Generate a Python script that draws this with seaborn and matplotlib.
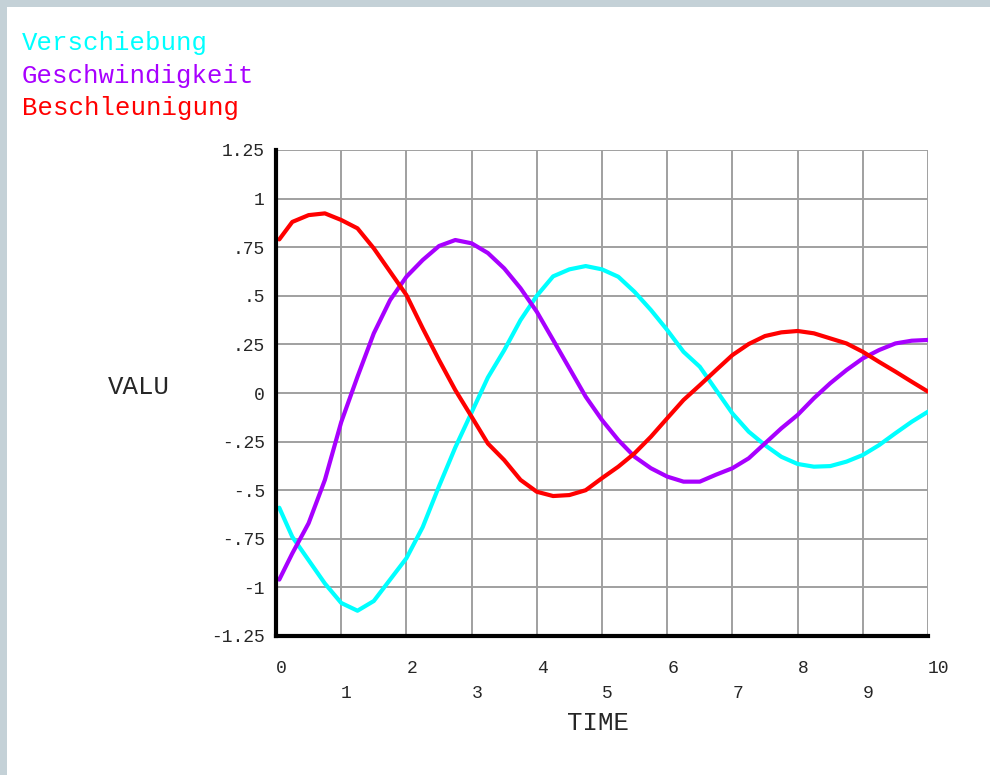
import pandas as pd
import numpy as np
import matplotlib
matplotlib.use("Agg")
import matplotlib.pyplot as plt
import seaborn as sns

# values (time step 0.25)
time = [0.05, 0.25, 0.5, 0.75, 1.0, 1.25, 1.5, 1.75, 2.0, 2.25, 2.5, 2.75, 3.0, 3.25,
        3.5, 3.75, 4.0, 4.25, 4.5, 4.75, 5.0, 5.25, 5.5, 5.75, 6.0, 6.25, 6.5, 6.75,
        7.0, 7.25, 7.5, 7.75, 8.0, 8.25, 8.5, 8.75, 9.0, 9.25, 9.5, 9.75, 10.0]

verschiebung = [-0.59, -0.74, -0.86, -0.98, -1.08, -1.12, -1.07, -0.96, -0.85, -0.69,
                -0.48, -0.28, -0.10, 0.08, 0.22, 0.375, 0.50, 0.60, 0.636, 0.653,
                0.636, 0.598, 0.52, 0.427, 0.324, 0.212, 0.135, 0.015, -0.105, -0.199,
                -0.268, -0.328, -0.365, -0.379, -0.376, -0.353, -0.319, -0.268, -0.207,
                -0.148, -0.096]

geschwindigkeit = [-0.96, -0.825, -0.67, -0.447, -0.15, 0.084, 0.307, 0.478, 0.598,
                   0.684, 0.756, 0.787, 0.77, 0.72, 0.641, 0.539, 0.418, 0.273, 0.127,
                   -0.019, -0.139, -0.242, -0.328, -0.387, -0.43, -0.456, -0.456,
                   -0.42, -0.387, -0.336, -0.259, -0.182, -0.113, -0.027, 0.05, 0.118,
                   0.178, 0.221, 0.255, 0.269, 0.273]

beschleunigung = [0.79, 0.88, 0.915, 0.924, 0.89, 0.847, 0.744, 0.624, 0.504, 0.333,
                  0.17, 0.015, -0.122, -0.26, -0.345, -0.447, -0.508, -0.53, -0.525,
                  -0.50, -0.438, -0.379, -0.31, -0.225, -0.13, -0.036, 0.04, 0.118,
                  0.195, 0.252, 0.293, 0.312, 0.319, 0.307, 0.281, 0.255, 0.212, 0.16,
                  0.11, 0.058, 0.007]

names = ["Verschiebung", "Geschwindigkeit", "Beschleunigung"]
colors = ["#00ffff", "#a800ff", "#ff0000"]

y_ticks = [1.25, 1, 0.75, 0.5, 0.25, 0, -0.25, -0.5, -0.75, -1, -1.25]
y_labels = ["1.25", "1", ".75", ".5", ".25", "0", "-.25", "-.5", "-.75", "-1", "-1.25"]
x_even = [0, 2, 4, 6, 8, 10]
x_odd = [1, 3, 5, 7, 9]

df = pd.DataFrame({"TIME": time * 3,
                   "VALU": verschiebung + geschwindigkeit + beschleunigung,
                   "series": [n for n in names for _ in time]})

sns.set_style("white")
plt.rcParams["font.family"] = ["Liberation Mono", "DejaVu Sans Mono"]

fig = plt.figure(figsize=(9.9, 7.75), dpi=100)
fig.patch.set_facecolor("#c4d1d7")
fig.patches.append(plt.Rectangle((7 / 990, 0), 1, 1 - 7 / 775, transform=fig.transFigure,
                                 facecolor="white", edgecolor="none", zorder=-1))

ax = fig.add_axes([276 / 990, 139 / 775, 652 / 990, 486 / 775])
sns.lineplot(data=df, x="TIME", y="VALU", hue="series", palette=colors,
             linewidth=3, legend=False, ax=ax, zorder=3)

ax.set_xlim(0, 10)
ax.set_ylim(-1.25, 1.25)
ax.set_yticks(y_ticks)
ax.set_yticklabels(y_labels, fontsize=13)
ax.set_xticks(x_even)
ax.set_xticklabels([str(v) for v in x_even], fontsize=13, ha="left")
ax.set_xticks(x_odd, minor=True)
ax.set_xticklabels([str(v) for v in x_odd], minor=True, fontsize=13, ha="left")

ax.grid(True, which="both", color="#a0a0a0", linewidth=1.4)
ax.tick_params(axis="x", which="major", length=6, width=1.4, color="#a0a0a0", pad=11)
ax.tick_params(axis="x", which="minor", length=12, width=1.4, color="#a0a0a0", pad=23)
ax.tick_params(axis="y", length=4, width=1.2, color="#a0a0a0", pad=4)

for s in ["top", "right"]:
    ax.spines[s].set_visible(False)
for s in ["left", "bottom"]:
    ax.spines[s].set_color("black")
    ax.spines[s].set_linewidth(3)
    ax.spines[s].set_zorder(4)

ax.set_xlabel("")
ax.set_ylabel("")
fig.text(139 / 990, 1 - 387 / 775, "VALU", fontsize=18.5, ha="center", va="center")
fig.text(598 / 990, 1 - 723 / 775, "TIME", fontsize=18.5, ha="center", va="center")

for i, (n, c) in enumerate(zip(names, colors)):
    fig.text(22 / 990, 1 - (43 + 32.5 * i) / 775, n, color=c, fontsize=18.5,
             ha="left", va="center")

fig.savefig("out.png", dpi=100)
